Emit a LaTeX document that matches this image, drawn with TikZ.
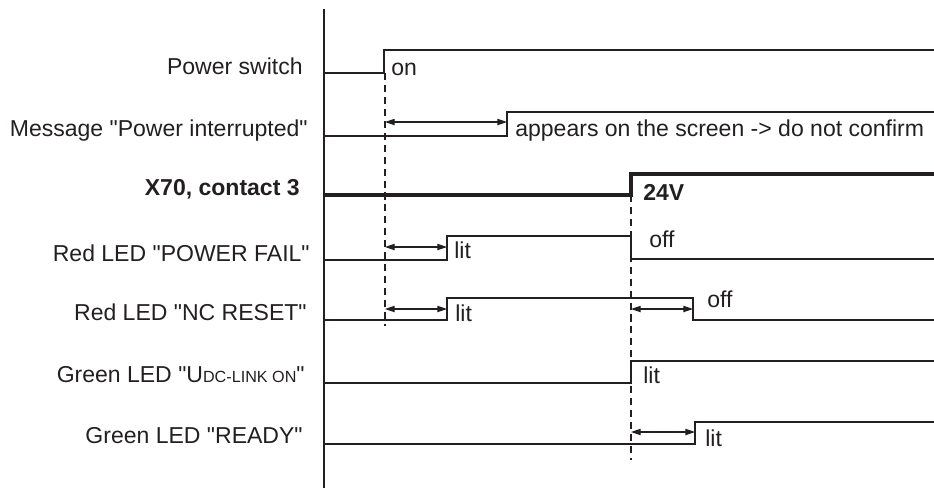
\documentclass[tikz,border=0pt]{standalone}
\usepackage{fontspec}
\setmainfont{Liberation Sans}[Ligatures=TeXOff]
\usepackage{tikz}
\usetikzlibrary{arrows.meta, positioning, calc}
\usepackage{xcolor}
\definecolor{ink}{HTML}{231F20}
\newcommand{\sigfont}{\fontsize{13.1}{16}\selectfont}
\newcommand{\subfont}{\fontsize{9.2}{11}\selectfont}

\begin{document}
\begin{tikzpicture}[
    x=0.02cm, y=-0.02cm,
    sig/.style={line width=0.7pt, draw=ink},
    thicksig/.style={line width=1.8pt, draw=ink},
    evline/.style={line width=0.8pt, draw=ink, dash pattern=on 4pt off 2.8pt},
    dly/.style={{Triangle[length=5.5pt, width=3.6pt]}-{Triangle[length=5.5pt, width=3.6pt]}, line width=0.6pt, draw=ink, fill=ink},
    lbl/.style={font=\sigfont, text=ink, anchor=base east, inner sep=0pt},
    state/.style={font=\sigfont, text=ink, anchor=base west, inner sep=0pt},
]
\useasboundingbox (0,0) rectangle (934,488);

% Axis
\draw[sig] (324,9) -- (324,488);

% Signal names
\node[lbl] (ps) at (303,74) {Power switch};
\node[lbl] (msg) at (308,136) {Message "Power interrupted"};
\node[lbl, font=\sigfont\bfseries] (x70) at (300,195) {X70, contact 3};
\node[lbl] (pf) at (310,261) {Red LED "POWER FAIL"};
\node[lbl] (nc) at (307,320) {Red LED "NC RESET"};
\node[lbl] (udc) at (305,382) {Green LED "U{\subfont DC-LINK ON}"};
\node[lbl] (rdy) at (303,443) {Green LED "READY"};

% Signals
\draw[sig] (324,73) -- (384,73) -- (384,50) -- (934,50);
\draw[sig] (324,136) -- (507,136) -- (507,112) -- (934,112);
\draw[thicksig] (324,195) -- (631,195) -- (631,174) -- (934,174);
\draw[sig] (324,260) -- (447,260) -- (447,236) -- (631,236) -- (631,259) -- (934,259);
\draw[sig] (324,320) -- (447,320) -- (447,298) -- (693,298) -- (693,320) -- (934,320);
\draw[sig] (324,383) -- (631,383) -- (631,361) -- (934,361);
\draw[sig] (324,444) -- (695,444) -- (695,422) -- (934,422);

% Events
\coordinate (on-top) at (385,73);
\coordinate (on-bot) at (385,326);
\coordinate (v24-top) at (631,195);
\coordinate (v24-bot) at (631,460);
\draw[evline] (on-top) -- (on-bot);
\draw[evline] (v24-top) -- (v24-bot);

% Delays
\foreach \name/\xa/\xb/\y in {dmsg/385/507/122, dpf/385/447/247, dnc/385/447/309, dncoff/631/693/309, drdy/631/695/432} {
    \coordinate (\name-a) at (\xa,\y);
    \coordinate (\name-b) at (\xb,\y);
    \draw[dly] (\name-a) -- (\name-b);
}

% States
\node[state] (s-on) at (391,75) {on};
\node[state] (s-msg) at (515,136) {appears on the screen -> do not confirm};
\node[state, font=\sigfont\bfseries] (s-24v) at (643,200) {24V};
\node[state] (s-pflit) at (454,258) {lit};
\node[state] (s-pfoff) at (649,247) {off};
\node[state] (s-nclit) at (455,321) {lit};
\node[state] (s-ncoff) at (707,307) {off};
\node[state] (s-udclit) at (643,383) {lit};
\node[state] (s-rdylit) at (705,446) {lit};

\end{tikzpicture}
\end{document}
